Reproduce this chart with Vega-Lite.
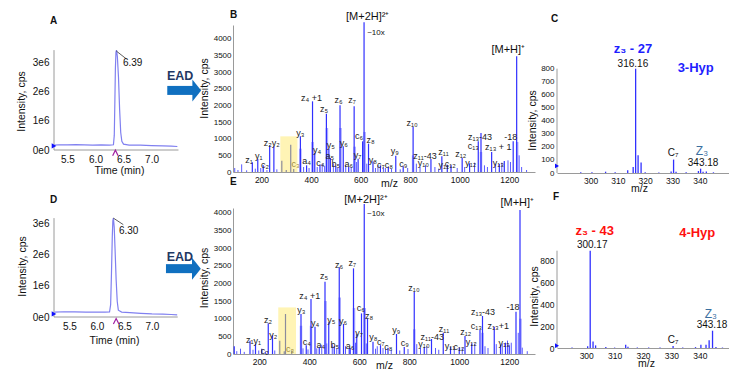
{
"$schema": "https://vega.github.io/schema/vega-lite/v6.json",
"background": "white",
"padding": {"left": 16, "top": 10, "right": 0, "bottom": 0},
"config": {
  "font": "Liberation Sans",
  "view": {"stroke": null},
  "axis": {"grid": false, "ticks": false, "domainColor": "#9a9a9a", "domainWidth": 1, "labelColor": "#111", "titleColor": "#111", "titleFontWeight": "normal", "titleFontSize": 10.5},
  "title": {"fontSize": 10, "fontWeight": "bold", "anchor": "start", "frame": "group", "baseline": "middle", "color": "#111"}
},
"columns": 3,
"spacing": {"row": 35, "column": 22},
"bounds": "flush",
"concat": [
{
  "width": 157, "height": 125,
  "title": {"text": "A", "offset": -0.5, "dx": -4},
  "encoding": {
    "x": {"field": "x", "type": "quantitative", "scale": {"domain": [5.26, 8.06]}, "axis": {"values": [5.5, 6, 6.5, 7], "format": ".1f", "domain": false, "labelFontSize": 10, "labelPadding": 4, "title": "Time (min)", "titleX": 65, "titleY": 20, "titleBaseline": "middle"}},
    "y": {"field": "y", "type": "quantitative", "scale": {"domain": [0, 4.28]}, "axis": {"values": [0, 1, 2, 3], "labelExpr": "datum.value == 0 ? '0e0' : datum.value + 'e6'", "domain": false, "labelFontSize": 10, "labelPadding": 5, "title": "Intensity, cps", "titleX": -33, "titleY": 76, "titleBaseline": "middle"}}
  },
  "layer": [
    {"data": {"values": [{"x": 5.26, "x2": 7.48, "y": 0, "y2": 0}, {"x": 5.26, "x2": 5.26, "y": 0, "y2": 3.42}]}, "mark": {"type": "rule", "color": "#9a9a9a", "strokeWidth": 1}, "encoding": {"x2": {"field": "x2"}, "y2": {"field": "y2"}}},
    {"data": {"values": [
      {"x": 5.27, "y": 0.17}, {"x": 5.35, "y": 0.18}, {"x": 5.5, "y": 0.175}, {"x": 5.65, "y": 0.185}, {"x": 5.8, "y": 0.175}, {"x": 5.95, "y": 0.17}, {"x": 6.1, "y": 0.175}, {"x": 6.25, "y": 0.17}, {"x": 6.32, "y": 0.18}, {"x": 6.335, "y": 0.5}, {"x": 6.345, "y": 1.6}, {"x": 6.355, "y": 2.8}, {"x": 6.365, "y": 3.35}, {"x": 6.375, "y": 3.42}, {"x": 6.39, "y": 3.2}, {"x": 6.41, "y": 2.5}, {"x": 6.43, "y": 1.4}, {"x": 6.45, "y": 0.6}, {"x": 6.47, "y": 0.3}, {"x": 6.5, "y": 0.2}, {"x": 6.6, "y": 0.17}, {"x": 6.8, "y": 0.165}, {"x": 7.0, "y": 0.15}, {"x": 7.2, "y": 0.14}, {"x": 7.35, "y": 0.13}, {"x": 7.46, "y": 0.12}]},
     "mark": {"type": "line", "color": "#8080f0", "strokeWidth": 1.2}},
    {"data": {"values": [{"x": 6.37, "y": 3.39, "x2": 6.55, "y2": 3.12}]}, "mark": {"type": "rule", "color": "#333", "strokeWidth": 0.8}, "encoding": {"x2": {"field": "x2"}, "y2": {"field": "y2"}}},
    {"data": {"values": [{"x": 6.49, "y": 2.98, "label": "6.39"}]}, "mark": {"type": "text", "align": "left", "baseline": "middle", "fontSize": 10, "color": "#111"}, "encoding": {"text": {"field": "label"}}},
    {"data": {"values": [{"x": 7.28, "x2": 7.74, "y": 2.04}]}, "mark": {"type": "rule", "color": "#1070c0", "strokeWidth": 9, "strokeCap": "butt"}, "encoding": {"x2": {"field": "x2"}}},
    {"data": {"values": [{"x": 7.806, "y": 2.04}]}, "mark": {"type": "point", "shape": "M-0.4,-1L0.4,0L-0.4,1Z", "filled": true, "size": 484, "color": "#1070c0", "opacity": 1}},
    {"data": {"values": [{"x": 7.51, "y": 2.53, "label": "EAD"}]}, "mark": {"type": "text", "fontSize": 12.5, "fontWeight": "bold", "color": "#1f3864", "baseline": "middle"}, "encoding": {"text": {"field": "label"}}},
    {"data": {"values": [{"x": 5.26, "y": 0.14}]}, "mark": {"type": "point", "shape": "triangle-right", "filled": true, "size": 28, "color": "#1010ff", "opacity": 1}},
    {"data": {"values": [{"x": 6.355, "y": -0.1}]}, "mark": {"type": "point", "shape": "M-1,1L0,-1L1,1", "filled": false, "size": 30, "color": "#a020a0", "opacity": 1, "strokeWidth": 1.2}}
  ]
},
{
  "width": 302, "height": 147,
  "title": {"text": "B", "offset": -9.5, "dx": -3},
  "encoding": {
    "x": {"field": "x", "type": "quantitative", "scale": {"domain": [85, 1304]}, "axis": {"values": [200, 400, 600, 800, 1000, 1200], "format": "d", "labelFontSize": 8.5, "labelPadding": 3, "title": "m/z", "titleX": 156, "titleY": 11.5, "titleBaseline": "middle"}},
    "y": {"field": "y", "type": "quantitative", "scale": {"domain": [0, 4410]}, "axis": {"values": [0, 500, 1000, 1500, 2000, 2500, 3000, 3500, 4000], "format": "d", "labelFontSize": 8, "labelPadding": 2, "title": "Intensity, cps", "titleX": -29, "titleY": 63, "titleBaseline": "middle"}}
  },
  "layer": [
    {"data": {"values": [{"x": 276, "x2": 345, "y": 1070}]}, "mark": {"type": "rect", "color": "#fff3ad", "opacity": 0.9}, "encoding": {"x2": {"field": "x2"}, "y2": {"datum": 0}}},
    {"data": {"values": [{"x": 357, "y": 700}, {"x": 406, "y": 900}, {"x": 464, "y": 1320}, {"x": 519, "y": 1320}, {"x": 576, "y": 760}, {"x": 616, "y": 1200}, {"x": 812, "y": 500}, {"x": 1086, "y": 600}, {"x": 1232, "y": 900}]},
     "mark": {"type": "rule", "color": "#a8a8ff", "strokeWidth": 2.5}, "encoding": {"y2": {"datum": 0}}},
    {"data": {"values": [{"x": 92, "y": 120}, {"x": 105, "y": 60}, {"x": 120, "y": 230}, {"x": 140, "y": 50}, {"x": 175, "y": 100}, {"x": 197, "y": 120}, {"x": 222, "y": 60}, {"x": 262, "y": 80}, {"x": 370, "y": 150}, {"x": 392, "y": 120}, {"x": 425, "y": 150}, {"x": 445, "y": 250}, {"x": 455, "y": 180}, {"x": 490, "y": 260}, {"x": 508, "y": 120}, {"x": 540, "y": 200}, {"x": 562, "y": 150}, {"x": 583, "y": 300}, {"x": 625, "y": 250}, {"x": 660, "y": 120}, {"x": 670, "y": 200}, {"x": 692, "y": 150}, {"x": 700, "y": 120}, {"x": 725, "y": 100}, {"x": 760, "y": 80}, {"x": 790, "y": 120}, {"x": 825, "y": 250}, {"x": 840, "y": 150}, {"x": 862, "y": 200}, {"x": 900, "y": 150}, {"x": 915, "y": 100}, {"x": 990, "y": 120}, {"x": 1020, "y": 150}, {"x": 1060, "y": 280}, {"x": 1100, "y": 200}, {"x": 1112, "y": 150}, {"x": 1145, "y": 250}, {"x": 1170, "y": 280}, {"x": 1195, "y": 350}, {"x": 1205, "y": 300}, {"x": 1240, "y": 500}, {"x": 1250, "y": 150}, {"x": 1270, "y": 60}]},
     "mark": {"type": "rule", "color": "#5a5aff", "strokeWidth": 1}, "encoding": {"y2": {"datum": 0}}},
    {"data": {"values": [{"x": 163, "y": 290}, {"x": 185, "y": 390}, {"x": 207, "y": 200}, {"x": 233, "y": 800}, {"x": 250, "y": 770}, {"x": 357, "y": 1070}, {"x": 382, "y": 200}, {"x": 406, "y": 2120}, {"x": 415, "y": 570}, {"x": 436, "y": 220}, {"x": 462, "y": 1750}, {"x": 472, "y": 700}, {"x": 478, "y": 420}, {"x": 500, "y": 180}, {"x": 517, "y": 2000}, {"x": 530, "y": 770}, {"x": 552, "y": 150}, {"x": 574, "y": 1970}, {"x": 590, "y": 400}, {"x": 608, "y": 920}, {"x": 614, "y": 4490}, {"x": 632, "y": 850}, {"x": 650, "y": 320}, {"x": 680, "y": 200}, {"x": 712, "y": 160}, {"x": 742, "y": 490}, {"x": 772, "y": 170}, {"x": 812, "y": 1350}, {"x": 884, "y": 390}, {"x": 928, "y": 470}, {"x": 950, "y": 220}, {"x": 965, "y": 200}, {"x": 1010, "y": 420}, {"x": 1040, "y": 260}, {"x": 1075, "y": 920}, {"x": 1086, "y": 1170}, {"x": 1129, "y": 600}, {"x": 1160, "y": 240}, {"x": 1180, "y": 330}, {"x": 1216, "y": 920}, {"x": 1230, "y": 3470}]},
     "mark": {"type": "rule", "color": "#3030ff", "strokeWidth": 1.2}, "encoding": {"y2": {"datum": 0}}},
    {"data": {"values": [{"x": 282, "y": 340}, {"x": 300, "y": 60}, {"x": 318, "y": 820}, {"x": 330, "y": 90}]},
     "mark": {"type": "rule", "color": "#8c8c9c", "strokeWidth": 1.2}, "encoding": {"y2": {"datum": 0}}},
    {"data": {"values": [
      {"x": 150, "y": 369, "label": "z₁"}, {"x": 189, "y": 468, "label": "y₁"}, {"x": 214, "y": 219, "label": "c₂"}, {"x": 241, "y": 871, "label": "z₂y₂"}, {"x": 357, "y": 1171, "label": "y₃"}, {"x": 382, "y": 318, "label": "a₄"}, {"x": 402, "y": 2222, "label": "z₄ +1"}, {"x": 424, "y": 649, "label": "y₄"}, {"x": 438, "y": 270, "label": "c₄"}, {"x": 453, "y": 1892, "label": "z₅"}, {"x": 480, "y": 811, "label": "y₅"}, {"x": 476, "y": 468, "label": "a₅"}, {"x": 500, "y": 228, "label": "b₅"}, {"x": 511, "y": 2171, "label": "z₆"}, {"x": 532, "y": 871, "label": "y₆"}, {"x": 552, "y": 228, "label": "a₆"}, {"x": 566, "y": 2171, "label": "z₇"}, {"x": 594, "y": 1069, "label": "c₆"}, {"x": 588, "y": 520, "label": "y₇"}, {"x": 640, "y": 949, "label": "z₈"}, {"x": 650, "y": 369, "label": "y₈"}, {"x": 682, "y": 198, "label": "c₇"}, {"x": 714, "y": 198, "label": "c₈"}, {"x": 738, "y": 619, "label": "y₉"}, {"x": 772, "y": 249, "label": "c₉"}, {"x": 808, "y": 1471, "label": "z₁₀"}, {"x": 860, "y": 468, "label": "z₁₁-43"}, {"x": 853, "y": 270, "label": "y₁₀"}, {"x": 935, "y": 600, "label": "z₁₁"}, {"x": 936, "y": 219, "label": "y₁₁"}, {"x": 962, "y": 249, "label": "c₁₂"}, {"x": 1004, "y": 549, "label": "z₁₂"}, {"x": 1045, "y": 270, "label": "y₁₂"}, {"x": 1055, "y": 769, "label": "c₁₃"}, {"x": 1082, "y": 1051, "label": "z₁₃-43"}, {"x": 1156, "y": 739, "label": "z₁₃ + 1"}, {"x": 1156, "y": 270, "label": "y₁₃"}, {"x": 1206, "y": 1039, "label": "-18"}]},
     "mark": {"type": "text", "fontSize": 9, "color": "#222", "baseline": "middle"}, "encoding": {"text": {"field": "label"}}},
    {"data": {"values": [{"x": 338, "y": 228, "label": "c₃"}]}, "mark": {"type": "text", "fontSize": 9, "color": "#a08c3c", "baseline": "middle"}, "encoding": {"text": {"field": "label"}}},
    {"data": {"values": [{"x": 629, "y": 4664, "label": "[M+2H]²⁺"}, {"x": 1196, "y": 3673, "label": "[M+H]⁺"}]}, "mark": {"type": "text", "fontSize": 11, "color": "#111", "baseline": "middle"}, "encoding": {"text": {"field": "label"}}},
    {"data": {"values": [{"x": 662, "y": 4183, "label": "~10x"}]}, "mark": {"type": "text", "fontSize": 8, "color": "#111", "baseline": "middle"}, "encoding": {"text": {"field": "label"}}}
  ]
},
{
  "width": 172, "height": 148,
  "title": {"text": "C", "offset": 1.5, "dx": -6},
  "encoding": {
    "x": {"field": "x", "type": "quantitative", "scale": {"domain": [287.7, 350.7]}, "axis": {"values": [300, 310, 320, 330, 340], "format": "d", "labelFontSize": 8.5, "labelPadding": 3, "title": "m/z", "titleX": 82, "titleY": 15, "titleBaseline": "middle"}},
    "y": {"field": "y", "type": "quantitative", "scale": {"domain": [0, 1135]}, "axis": {"values": [0, 100, 200, 300, 400, 500, 600, 700, 800], "format": "d", "domain": false, "labelFontSize": 8, "labelPadding": 3, "title": "Intensity, cps", "titleX": -25, "titleY": 95, "titleBaseline": "middle"}}
  },
  "layer": [
    {"data": {"values": [{"x": 287.7, "y": 0, "y2": 800}]}, "mark": {"type": "rule", "color": "#9a9a9a", "strokeWidth": 1}, "encoding": {"y2": {"field": "y2"}}},
    {"data": {"values": [{"x": 296.4, "y": 6}, {"x": 300.5, "y": 5}, {"x": 305.5, "y": 10}, {"x": 309, "y": 5}, {"x": 313.6, "y": 21}, {"x": 315.6, "y": 46}, {"x": 316.5, "y": 800}, {"x": 317.4, "y": 136}, {"x": 318.5, "y": 80}, {"x": 320, "y": 5}, {"x": 325, "y": 4}, {"x": 329.5, "y": 12}, {"x": 330.4, "y": 103}, {"x": 331.3, "y": 10}, {"x": 335, "y": 5}, {"x": 339.5, "y": 15}, {"x": 340.3, "y": 33}, {"x": 341.2, "y": 10}, {"x": 342.4, "y": 12}, {"x": 345, "y": 5}]},
     "mark": {"type": "rule", "color": "#3030ff", "strokeWidth": 1.3}, "encoding": {"y2": {"datum": 0}}},
    {"data": {"values": [{"x": 287.7, "y": 54}]}, "mark": {"type": "point", "shape": "triangle-right", "filled": true, "size": 22, "color": "#1010ff", "opacity": 1}},
    {"data": {"values": [{"x": 315.5, "y": 949, "label": "z₃ - 27"}, {"x": 338.5, "y": 803, "label": "3-Hyp"}]}, "mark": {"type": "text", "fontSize": 13, "fontWeight": "bold", "color": "#1e1eff", "baseline": "middle"}, "encoding": {"text": {"field": "label"}}},
    {"data": {"values": [{"x": 315.5, "y": 834, "label": "316.16"}, {"x": 341.2, "y": 77, "label": "343.18"}, {"x": 330.2, "y": 155, "label": "C₇"}]}, "mark": {"type": "text", "fontSize": 10, "color": "#111", "baseline": "middle"}, "encoding": {"text": {"field": "label"}}},
    {"data": {"values": [{"x": 340.8, "y": 166, "label": "Z₃"}]}, "mark": {"type": "text", "fontSize": 12, "color": "#3b6fa0", "baseline": "middle"}, "encoding": {"text": {"field": "label"}}}
  ]
},
{
  "width": 157, "height": 109,
  "title": {"text": "D", "offset": 3.5, "dx": -4},
  "encoding": {
    "x": {"field": "x", "type": "quantitative", "scale": {"domain": [5.22, 8.075]}, "axis": {"values": [5.5, 6, 6.5, 7], "format": ".1f", "domain": false, "labelFontSize": 10, "labelPadding": 4, "title": "Time (min)", "titleX": 60, "titleY": 23, "titleBaseline": "middle"}},
    "y": {"field": "y", "type": "quantitative", "scale": {"domain": [0, 3.516]}, "axis": {"values": [0, 1, 2, 3], "labelExpr": "datum.value == 0 ? '0e0' : datum.value + 'e6'", "domain": false, "labelFontSize": 10, "labelPadding": 5, "title": "Intensity, cps", "titleX": -32, "titleY": 58, "titleBaseline": "middle"}}
  },
  "layer": [
    {"data": {"values": [{"x": 5.22, "x2": 7.47, "y": 0, "y2": 0}, {"x": 5.22, "x2": 5.22, "y": 0, "y2": 3.19}]}, "mark": {"type": "rule", "color": "#9a9a9a", "strokeWidth": 1}, "encoding": {"x2": {"field": "x2"}, "y2": {"field": "y2"}}},
    {"data": {"values": [
      {"x": 5.23, "y": 0.16}, {"x": 5.4, "y": 0.17}, {"x": 5.6, "y": 0.165}, {"x": 5.8, "y": 0.16}, {"x": 6.0, "y": 0.16}, {"x": 6.15, "y": 0.155}, {"x": 6.23, "y": 0.16}, {"x": 6.25, "y": 0.4}, {"x": 6.265, "y": 1.4}, {"x": 6.28, "y": 2.6}, {"x": 6.29, "y": 3.1}, {"x": 6.3, "y": 3.19}, {"x": 6.315, "y": 2.9}, {"x": 6.33, "y": 2.2}, {"x": 6.35, "y": 1.2}, {"x": 6.37, "y": 0.5}, {"x": 6.39, "y": 0.22}, {"x": 6.45, "y": 0.16}, {"x": 6.6, "y": 0.14}, {"x": 6.8, "y": 0.12}, {"x": 7.0, "y": 0.1}, {"x": 7.2, "y": 0.09}, {"x": 7.35, "y": 0.08}, {"x": 7.46, "y": 0.07}]},
     "mark": {"type": "line", "color": "#8080f0", "strokeWidth": 1.2}},
    {"data": {"values": [{"x": 6.30, "y": 3.19, "x2": 6.48, "y2": 2.98}]}, "mark": {"type": "rule", "color": "#333", "strokeWidth": 0.8}, "encoding": {"x2": {"field": "x2"}, "y2": {"field": "y2"}}},
    {"data": {"values": [{"x": 6.40, "y": 2.76, "label": "6.30"}]}, "mark": {"type": "text", "align": "left", "baseline": "middle", "fontSize": 10, "color": "#111"}, "encoding": {"text": {"field": "label"}}},
    {"data": {"values": [{"x": 7.256, "x2": 7.747, "y": 1.56}]}, "mark": {"type": "rule", "color": "#1070c0", "strokeWidth": 9, "strokeCap": "butt"}, "encoding": {"x2": {"field": "x2"}}},
    {"data": {"values": [{"x": 7.81, "y": 1.56}]}, "mark": {"type": "point", "shape": "M-0.4,-1L0.4,0L-0.4,1Z", "filled": true, "size": 484, "color": "#1070c0", "opacity": 1}},
    {"data": {"values": [{"x": 7.51, "y": 1.95, "label": "EAD"}]}, "mark": {"type": "text", "fontSize": 12.5, "fontWeight": "bold", "color": "#1f3864", "baseline": "middle"}, "encoding": {"text": {"field": "label"}}},
    {"data": {"values": [{"x": 5.22, "y": 0.1}]}, "mark": {"type": "point", "shape": "triangle-right", "filled": true, "size": 28, "color": "#1010ff", "opacity": 1}},
    {"data": {"values": [{"x": 6.35, "y": -0.14}]}, "mark": {"type": "point", "shape": "M-1,1L0,-1L1,1", "filled": false, "size": 30, "color": "#a020a0", "opacity": 1, "strokeWidth": 1.2}}
  ]
},
{
  "width": 302, "height": 146,
  "title": {"text": "E", "offset": 7, "dx": -3},
  "encoding": {
    "x": {"field": "x", "type": "quantitative", "scale": {"domain": [95, 1303]}, "axis": {"values": [200, 400, 600, 800, 1000, 1200], "format": "d", "labelFontSize": 8.5, "labelPadding": 3, "title": "m/z", "titleX": 151, "titleY": 11.7, "titleBaseline": "middle"}},
    "y": {"field": "y", "type": "quantitative", "scale": {"domain": [0, 4136]}, "axis": {"values": [0, 500, 1000, 1500, 2000, 2500, 3000, 3500, 4000], "format": "d", "labelFontSize": 8, "labelPadding": 2, "title": "Intensity, cps", "titleX": -29, "titleY": 69.5, "titleBaseline": "middle"}}
  },
  "layer": [
    {"data": {"values": [{"x": 276, "x2": 347, "y": 1320}]}, "mark": {"type": "rect", "color": "#fff3ad", "opacity": 0.9}, "encoding": {"x2": {"field": "x2"}, "y2": {"datum": 0}}},
    {"data": {"values": [{"x": 367, "y": 800}, {"x": 407, "y": 800}, {"x": 465, "y": 1500}, {"x": 522, "y": 1600}, {"x": 579, "y": 1300}, {"x": 622, "y": 1300}, {"x": 820, "y": 700}, {"x": 1093, "y": 600}, {"x": 1245, "y": 1000}]},
     "mark": {"type": "rule", "color": "#a8a8ff", "strokeWidth": 2.5}, "encoding": {"y2": {"datum": 0}}},
    {"data": {"values": [{"x": 110, "y": 80}, {"x": 125, "y": 150}, {"x": 140, "y": 60}, {"x": 175, "y": 120}, {"x": 198, "y": 100}, {"x": 225, "y": 70}, {"x": 262, "y": 100}, {"x": 375, "y": 160}, {"x": 395, "y": 130}, {"x": 430, "y": 160}, {"x": 450, "y": 260}, {"x": 470, "y": 300}, {"x": 492, "y": 280}, {"x": 510, "y": 150}, {"x": 545, "y": 220}, {"x": 565, "y": 160}, {"x": 585, "y": 320}, {"x": 628, "y": 300}, {"x": 665, "y": 150}, {"x": 672, "y": 220}, {"x": 695, "y": 170}, {"x": 705, "y": 140}, {"x": 728, "y": 120}, {"x": 762, "y": 100}, {"x": 795, "y": 140}, {"x": 830, "y": 280}, {"x": 845, "y": 170}, {"x": 870, "y": 220}, {"x": 905, "y": 170}, {"x": 918, "y": 120}, {"x": 980, "y": 150}, {"x": 1012, "y": 180}, {"x": 1062, "y": 300}, {"x": 1103, "y": 220}, {"x": 1115, "y": 170}, {"x": 1148, "y": 280}, {"x": 1172, "y": 300}, {"x": 1193, "y": 380}, {"x": 1208, "y": 320}, {"x": 1236, "y": 600}, {"x": 1252, "y": 180}, {"x": 1272, "y": 80}]},
     "mark": {"type": "rule", "color": "#5a5aff", "strokeWidth": 1}, "encoding": {"y2": {"datum": 0}}},
    {"data": {"values": [{"x": 100, "y": 220}, {"x": 163, "y": 377}, {"x": 185, "y": 283}, {"x": 210, "y": 150}, {"x": 236, "y": 870}, {"x": 253, "y": 530}, {"x": 367, "y": 1133}, {"x": 388, "y": 250}, {"x": 407, "y": 1557}, {"x": 423, "y": 773}, {"x": 440, "y": 200}, {"x": 463, "y": 2048}, {"x": 478, "y": 900}, {"x": 500, "y": 220}, {"x": 520, "y": 2455}, {"x": 537, "y": 850}, {"x": 560, "y": 180}, {"x": 577, "y": 2426}, {"x": 590, "y": 560}, {"x": 609, "y": 1150}, {"x": 620, "y": 4250}, {"x": 633, "y": 1011}, {"x": 655, "y": 350}, {"x": 685, "y": 250}, {"x": 715, "y": 180}, {"x": 749, "y": 566}, {"x": 780, "y": 200}, {"x": 820, "y": 1765}, {"x": 860, "y": 200}, {"x": 889, "y": 425}, {"x": 936, "y": 600}, {"x": 965, "y": 200}, {"x": 1000, "y": 180}, {"x": 1023, "y": 510}, {"x": 1050, "y": 300}, {"x": 1083, "y": 680}, {"x": 1093, "y": 1076}, {"x": 1140, "y": 773}, {"x": 1165, "y": 250}, {"x": 1185, "y": 320}, {"x": 1200, "y": 250}, {"x": 1227, "y": 1198}, {"x": 1243, "y": 4080}]},
     "mark": {"type": "rule", "color": "#3030ff", "strokeWidth": 1.2}, "encoding": {"y2": {"datum": 0}}},
    {"data": {"values": [{"x": 282, "y": 377}, {"x": 300, "y": 80}, {"x": 305, "y": 1133}, {"x": 330, "y": 100}]},
     "mark": {"type": "rule", "color": "#8c8c9c", "strokeWidth": 1.2}, "encoding": {"y2": {"datum": 0}}},
    {"data": {"values": [
      {"x": 162, "y": 397, "label": "z₁"}, {"x": 192, "y": 377, "label": "y₁"}, {"x": 222, "y": 85, "label": "c₂"}, {"x": 235, "y": 963, "label": "z₂"}, {"x": 256, "y": 538, "label": "y₂"}, {"x": 368, "y": 1246, "label": "y₃"}, {"x": 390, "y": 348, "label": "c₄"}, {"x": 446, "y": 255, "label": "a₄"}, {"x": 402, "y": 1652, "label": "z₄ +1"}, {"x": 423, "y": 887, "label": "y₄"}, {"x": 459, "y": 2210, "label": "z₅"}, {"x": 488, "y": 963, "label": "y₅"}, {"x": 502, "y": 255, "label": "b₅"}, {"x": 563, "y": 227, "label": "a₆"}, {"x": 519, "y": 2521, "label": "z₆"}, {"x": 535, "y": 943, "label": "y₆"}, {"x": 572, "y": 2569, "label": "z₇"}, {"x": 606, "y": 1294, "label": "c₆"}, {"x": 599, "y": 586, "label": "y₇"}, {"x": 639, "y": 1076, "label": "z₈"}, {"x": 656, "y": 490, "label": "y₈"}, {"x": 686, "y": 348, "label": "c₇"}, {"x": 716, "y": 190, "label": "c₈"}, {"x": 748, "y": 680, "label": "y₉"}, {"x": 782, "y": 320, "label": "c₉"}, {"x": 819, "y": 1878, "label": "z₁₀"}, {"x": 892, "y": 490, "label": "z₁₁-43"}, {"x": 859, "y": 283, "label": "y₁₀"}, {"x": 939, "y": 700, "label": "z₁₁"}, {"x": 963, "y": 227, "label": "y₁₁"}, {"x": 999, "y": 207, "label": "c₁₂"}, {"x": 1026, "y": 632, "label": "z₁₂"}, {"x": 1048, "y": 348, "label": "y₁₂"}, {"x": 1068, "y": 793, "label": "c₁₃"}, {"x": 1095, "y": 1198, "label": "z₁₃-43"}, {"x": 1156, "y": 793, "label": "z₁₃+1"}, {"x": 1179, "y": 303, "label": "y₁₃"}, {"x": 1215, "y": 1340, "label": "-18"}]},
     "mark": {"type": "text", "fontSize": 9, "color": "#222", "baseline": "middle"}, "encoding": {"text": {"field": "label"}}},
    {"data": {"values": [{"x": 323, "y": 133, "label": "c₃"}]}, "mark": {"type": "text", "fontSize": 9, "color": "#a08c3c", "baseline": "middle"}, "encoding": {"text": {"field": "label"}}},
    {"data": {"values": [{"x": 627, "y": 4363, "label": "[M+2H]²⁺"}, {"x": 1232, "y": 4269, "label": "[M+H]⁺"}]}, "mark": {"type": "text", "fontSize": 11, "color": "#111", "baseline": "middle"}, "encoding": {"text": {"field": "label"}}},
    {"data": {"values": [{"x": 666, "y": 3966, "label": "~10x"}]}, "mark": {"type": "text", "fontSize": 8, "color": "#111", "baseline": "middle"}, "encoding": {"text": {"field": "label"}}}
  ]
},
{
  "width": 172, "height": 140,
  "title": {"text": "F", "offset": 6.5, "dx": -4},
  "encoding": {
    "x": {"field": "x", "type": "quantitative", "scale": {"domain": [289.7, 350.3]}, "axis": {"values": [300, 310, 320, 330, 340], "format": "d", "labelFontSize": 8.5, "labelPadding": 3, "title": "m/z", "titleX": 89, "titleY": 15, "titleBaseline": "middle"}},
    "y": {"field": "y", "type": "quantitative", "scale": {"domain": [0, 1279]}, "axis": {"values": [0, 200, 400, 600, 800], "format": "d", "domain": false, "labelFontSize": 8.5, "labelPadding": 3, "title": "Intensity, cps", "titleX": -23, "titleY": 88, "titleBaseline": "middle"}}
  },
  "layer": [
    {"data": {"values": [{"x": 289.7, "y": 0, "y2": 889}]}, "mark": {"type": "rule", "color": "#9a9a9a", "strokeWidth": 1}, "encoding": {"y2": {"field": "y2"}}},
    {"data": {"values": [{"x": 295, "y": 5}, {"x": 300.5, "y": 15}, {"x": 301.4, "y": 889}, {"x": 302.4, "y": 60}, {"x": 303.3, "y": 24}, {"x": 306.9, "y": 8}, {"x": 310, "y": 4}, {"x": 313.9, "y": 30}, {"x": 314.7, "y": 12}, {"x": 318, "y": 5}, {"x": 322, "y": 4}, {"x": 326, "y": 5}, {"x": 330.6, "y": 18}, {"x": 334, "y": 4}, {"x": 338.5, "y": 8}, {"x": 340.4, "y": 30}, {"x": 342.2, "y": 30}, {"x": 343.3, "y": 70}, {"x": 344.5, "y": 158}, {"x": 345.7, "y": 10}, {"x": 348, "y": 4}]},
     "mark": {"type": "rule", "color": "#3030ff", "strokeWidth": 1.3}, "encoding": {"y2": {"datum": 0}}},
    {"data": {"values": [{"x": 289.7, "y": 21}]}, "mark": {"type": "point", "shape": "triangle-right", "filled": true, "size": 22, "color": "#1010ff", "opacity": 1}},
    {"data": {"values": [{"x": 303, "y": 1065, "label": "z₃ - 43"}, {"x": 339.1, "y": 1053, "label": "4-Hyp"}]}, "mark": {"type": "text", "fontSize": 13, "fontWeight": "bold", "color": "#ff1010", "baseline": "middle"}, "encoding": {"text": {"field": "label"}}},
    {"data": {"values": [{"x": 302.1, "y": 943, "label": "300.17"}, {"x": 344.3, "y": 213, "label": "343.18"}, {"x": 330.6, "y": 76, "label": "C₇"}]}, "mark": {"type": "text", "fontSize": 10, "color": "#111", "baseline": "middle"}, "encoding": {"text": {"field": "label"}}},
    {"data": {"values": [{"x": 343.9, "y": 313, "label": "Z₃"}]}, "mark": {"type": "text", "fontSize": 12, "color": "#3b6fa0", "baseline": "middle"}, "encoding": {"text": {"field": "label"}}}
  ]
}
]
}
